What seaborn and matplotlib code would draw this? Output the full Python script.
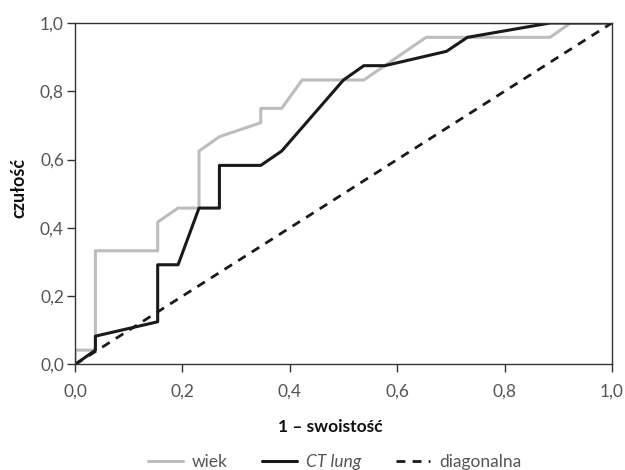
import matplotlib
matplotlib.use('Agg')
import matplotlib.pyplot as plt
from matplotlib.ticker import FuncFormatter
import seaborn as sns
import pandas as pd

# ROC curve points (1 - specificity, sensitivity)
wiek_fpr = [0.0, 0.0, 0.038, 0.038, 0.154, 0.154, 0.192, 0.231, 0.231, 0.269,
            0.346, 0.346, 0.385, 0.423, 0.538, 0.654, 0.885, 0.923, 1.0]
wiek_tpr = [0.0, 0.042, 0.042, 0.333, 0.333, 0.417, 0.458, 0.458, 0.625, 0.667,
            0.708, 0.750, 0.750, 0.833, 0.833, 0.958, 0.958, 1.0, 1.0]

ct_fpr = [0.0, 0.038, 0.038, 0.154, 0.154, 0.192, 0.231, 0.269, 0.269, 0.346,
          0.385, 0.5, 0.538, 0.577, 0.692, 0.731, 0.885, 1.0]
ct_tpr = [0.0, 0.042, 0.083, 0.125, 0.292, 0.292, 0.458, 0.458, 0.583, 0.583,
          0.625, 0.833, 0.875, 0.875, 0.917, 0.958, 1.0, 1.0]

diag = [0.0, 1.0]

labels = ['wiek', 'CT lung', 'diagonalna']
ticks = [0.0, 0.2, 0.4, 0.6, 0.8, 1.0]

sns.set_style('white')
plt.rcParams['font.family'] = ['Lato', 'DejaVu Sans']

fig = plt.figure(figsize=(6.25, 4.7), dpi=100)
# axes box: x 75..612 px, y 23..364.5 px
ax = fig.add_axes([0.12, 0.2245, 0.859, 0.7266])

wiek = pd.DataFrame({'x': wiek_fpr, 'y': wiek_tpr})
ct = pd.DataFrame({'x': ct_fpr, 'y': ct_tpr})

sns.lineplot(data=wiek, x='x', y='y', sort=False, estimator=None, ax=ax,
             color='#bdbdbd', linewidth=2.2, label=labels[0])
sns.lineplot(data=ct, x='x', y='y', sort=False, estimator=None, ax=ax,
             color='#1a1a1a', linewidth=2.2, label=labels[1])
sns.lineplot(x=diag, y=diag, ax=ax, color='#1a1a1a', linewidth=2.0,
             linestyle=(0, (3.2, 2.6)), label=labels[2])

ax.set_xlim(0, 1)
ax.set_ylim(0, 1)
ax.set_xticks(ticks)
ax.set_yticks(ticks)
fmt = FuncFormatter(lambda v, p: f'{v:.1f}'.replace('.', ','))
ax.xaxis.set_major_formatter(fmt)
ax.yaxis.set_major_formatter(fmt)
ax.tick_params(axis='both', which='major', direction='out', length=6, width=1,
               color='#333333', labelsize=12.5, labelcolor='#555555',
               bottom=True, left=True)
ax.tick_params(axis='x', pad=8)
ax.tick_params(axis='y', pad=2)
for s in ax.spines.values():
    s.set_color('#333333')
    s.set_linewidth(1.0)

ax.set_xlabel('1 – swoistość', fontsize=12.5, color='#111111',
              fontweight='bold')
ax.set_ylabel('czułość', fontsize=13, color='#111111',
              fontweight='bold')
ax.xaxis.set_label_coords(0.475, -0.16)
ax.yaxis.set_label_coords(-0.088, 0.517)

leg = ax.legend(loc='center', bbox_to_anchor=(0.484, -0.285), ncol=3,
                frameon=False, fontsize=12.5, handlelength=2.0,
                handletextpad=0.5, columnspacing=2.0)
for t in leg.get_texts():
    t.set_color('#555555')
leg.get_texts()[1].set_style('italic')

fig.savefig('out.png', dpi=100)
